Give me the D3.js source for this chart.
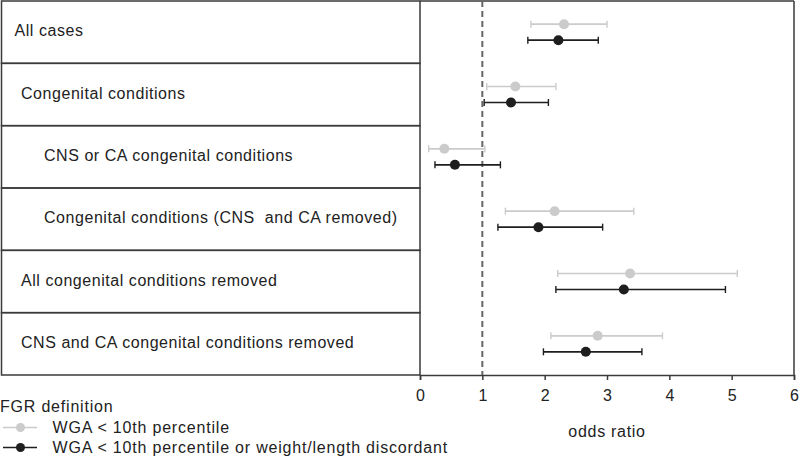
<!DOCTYPE html>
<html>
<head>
<meta charset="utf-8">
<script src="https://cdn.jsdelivr.net/npm/d3@7"></script>
<style>
  html, body { margin: 0; padding: 0; background: #fff; }
  svg { display: block; font-family: "Liberation Sans", Arial, sans-serif; }
</style>
</head>
<body>
<svg id="chart" width="800" height="458"></svg>
<script>
const categories = [
  "All cases",
  "Congenital conditions",
  "CNS or CA congenital conditions",
  "Congenital conditions (CNS\u00a0 and CA removed)",
  "All congenital conditions removed",
  "CNS and CA congenital conditions removed"
];
const indent = [0, 1, 2, 2, 1, 1];

// Series 1: WGA < 10th percentile (grey)
const wgaOR    = [2.31, 1.53, 0.39, 2.16, 3.37, 2.85];
const wgaLow   = [1.78, 1.07, 0.14, 1.37, 2.21, 2.10];
const wgaHigh  = [3.00, 2.18, 1.04, 3.43, 5.09, 3.89];

// Series 2: WGA < 10th percentile or weight/length discordant (black)
const discOR   = [2.22, 1.46, 0.56, 1.90, 3.27, 2.66];
const discLow  = [1.73, 1.03, 0.24, 1.25, 2.18, 1.98];
const discHigh = [2.86, 2.06, 1.29, 2.93, 4.90, 3.56];

const xTicks = [0, 1, 2, 3, 4, 5, 6];
const seriesNames = ["WGA < 10th percentile", "WGA < 10th percentile or weight/length discordant"];
const legendTitle = "FGR definition";
const xTitle = "odds ratio";

(function () {
const svg = d3.select("#chart");
const yTop = 1, yBottom = 375, tableLeft = 1.5, plotLeft = 420, plotRight = 794;
const grey = "#cbcbcb", dark = "#1e1e1e", lineCol = "#3a3a3a", textCol = "#222";

const x = d3.scaleLinear().domain([0, 6]).range([plotLeft, plotRight]);
const y = d3.scaleBand().domain(d3.range(categories.length)).range([yTop, yBottom]);

// table rows
svg.selectAll("rect.row").data(categories).join("rect")
  .attr("x", tableLeft).attr("y", (d, i) => y(i))
  .attr("width", plotLeft - tableLeft).attr("height", y.bandwidth())
  .attr("fill", "none").attr("stroke", lineCol).attr("stroke-width", 1.5);

const indentPx = [14.5, 21, 44];
svg.selectAll("text.cat").data(categories).join("text")
  .attr("x", (d, i) => indentPx[indent[i]])
  .attr("y", (d, i) => y(i) + y.bandwidth() / 2 + 4)
  .attr("font-size", 16).attr("letter-spacing", 0.55).attr("fill", textCol)
  .text(d => d);

// plot frame (top and right)
svg.append("line").attr("x1", plotLeft).attr("x2", plotRight).attr("y1", yTop).attr("y2", yTop)
  .attr("stroke", lineCol).attr("stroke-width", 1.5);
svg.append("line").attr("x1", plotRight).attr("x2", plotRight).attr("y1", yTop).attr("y2", yBottom)
  .attr("stroke", lineCol).attr("stroke-width", 1.5);

// x axis
const axis = svg.append("g").attr("transform", `translate(0,${yBottom})`)
  .call(d3.axisBottom(x).tickValues(xTicks).tickSize(5).tickPadding(10).tickFormat(d3.format("d")));
axis.select(".domain").attr("stroke", lineCol).attr("stroke-width", 1.5);
axis.selectAll(".tick line").attr("stroke", lineCol).attr("stroke-width", 1.5);
axis.selectAll(".tick text").attr("font-size", 16).attr("fill", textCol)
  .attr("font-family", "Liberation Sans, Arial, sans-serif");

svg.append("text").attr("x", x(3)).attr("y", 437).attr("text-anchor", "middle")
  .attr("font-size", 16).attr("letter-spacing", 0.7).attr("fill", textCol).text(xTitle);

// reference line at 1
svg.append("line").attr("x1", x(1)).attr("x2", x(1)).attr("y1", yTop).attr("y2", yBottom)
  .attr("stroke", "#666").attr("stroke-width", 2).attr("stroke-dasharray", "6,4");

// series
const series = [
  { or: wgaOR, lo: wgaLow, hi: wgaHigh, color: grey, off: -8 },
  { or: discOR, lo: discLow, hi: discHigh, color: dark, off: 8 }
];
series.forEach(s => {
  const g = svg.append("g");
  categories.forEach((c, i) => {
    const cy = y(i) + y.bandwidth() / 2 + s.off;
    g.append("line").attr("x1", x(s.lo[i])).attr("x2", x(s.hi[i])).attr("y1", cy).attr("y2", cy)
      .attr("stroke", s.color).attr("stroke-width", 1.6);
    [s.lo[i], s.hi[i]].forEach(v => {
      g.append("line").attr("x1", x(v)).attr("x2", x(v)).attr("y1", cy - 3.5).attr("y2", cy + 3.5)
        .attr("stroke", s.color).attr("stroke-width", 1.4);
    });
    g.append("circle").attr("cx", x(s.or[i])).attr("cy", cy).attr("r", 5).attr("fill", s.color);
  });
});

// legend
svg.append("text").attr("x", 0).attr("y", 412).attr("font-size", 16).attr("letter-spacing", 0.8)
  .attr("fill", textCol).text(legendTitle);
[grey, dark].forEach((col, i) => {
  const ly = 427.5 + i * 20;
  svg.append("line").attr("x1", 3).attr("x2", 37).attr("y1", ly).attr("y2", ly)
    .attr("stroke", col).attr("stroke-width", 1.6);
  svg.append("circle").attr("cx", 20.5).attr("cy", ly).attr("r", 4.5).attr("fill", col);
  svg.append("text").attr("x", 52.5).attr("y", ly + 5.5).attr("font-size", 16).attr("letter-spacing", 0.8)
    .attr("fill", textCol).text(seriesNames[i]);
});
})();
</script>
</body>
</html>
